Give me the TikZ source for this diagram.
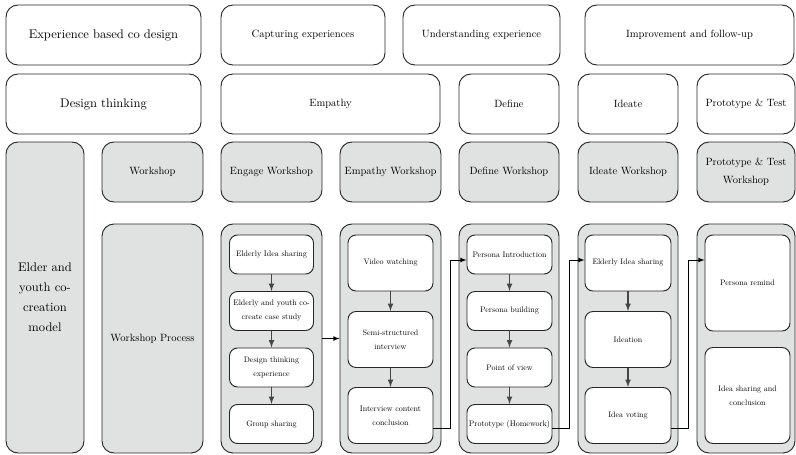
\documentclass[tikz,border=0pt]{standalone}
\usepackage{fontspec}
\setmainfont{lmroman10}[Extension=.otf, UprightFont=*-regular, BoldFont=*-bold]
\usepackage{tikz}
\usetikzlibrary{shapes, arrows, positioning, calc}

\definecolor{cellgray}{RGB}{224,225,225}
\definecolor{linkgray}{RGB}{70,70,70}

\tikzset{
	frame/.style 2 args={draw=black!85, line width=0.7pt, rounded corners=9pt, align=center, inner sep=0.75pt,
		minimum width=#1*0.75pt, minimum height=#2*0.75pt},
	head/.style 2 args={frame={#1}{#2}, font=\fontsize{9.4}{14}\selectfont},
	phase/.style 2 args={frame={#1}{#2}, font=\fontsize{7.9}{13.5}\selectfont},
	cell/.style 2 args={frame={#1}{#2}, fill=cellgray, font=\fontsize{7.9}{13.5}\selectfont},
	lane/.style 2 args={frame={#1}{#2}, fill=cellgray},
	task/.style 2 args={frame={#1}{#2}, fill=white, rounded corners=6pt, font=\fontsize{6}{10.5}\selectfont},
	flow/.style={-latex, line width=0.6pt, black},
	down/.style={-latex, line width=0.9pt, linkgray}
}

\begin{document}
\begin{tikzpicture}[x=0.75pt,y=0.75pt,yscale=-1,xscale=1]
	\useasboundingbox (0,0) rectangle (796,454);
	
	% EBCD stages
	\node [head={195}{60}] (ebcd) at (103.5,35) {Experience based co design};
	\node [phase={164}{60}] (capture) at (303,35) {Capturing experiences};
	\node [phase={157}{60}] (understand) at (481.5,35) {Understanding experience};
	\node [phase={209}{60}] (improve) at (689.5,35) {Improvement and follow-up};
	
	% design thinking stages
	\node [head={195}{60}] (dt) at (103.5,104) {Design thinking};
	\node [phase={219}{60}] (empathy) at (330.5,104) {Empathy};
	\node [phase={100}{60}] (define) at (509,104) {Define};
	\node [phase={100}{60}] (ideate) at (628,104) {Ideate};
	\node [phase={98}{60}] (proto) at (746,104) {Prototype \& Test};
	
	% workshops
	\node [cell={78}{311}, font=\fontsize{9.4}{15}\selectfont] (model) at (45,297.5) {Elder and\\youth co-\\creation\\model};
	\node [cell={101}{60}] (ws) at (152.5,172) {Workshop};
	\node [cell={101}{60}] (wsengage) at (271.5,172) {Engage Workshop};
	\node [cell={101}{60}] (wsempathy) at (390.5,172) {Empathy Workshop};
	\node [cell={100}{60}] (wsdefine) at (509,172) {Define Workshop};
	\node [cell={100}{60}] (wsideate) at (628,172) {Ideate Workshop};
	\node [cell={98}{60}] (wsproto) at (746,172) {Prototype \& Test\\Workshop};
	
	% process lanes
	\node [cell={101}{229}] (process) at (152.5,338.5) {Workshop Process};
	\node [lane={101}{229}] (lengage) at (271.5,338.5) {};
	\node [lane={101}{229}] (lempathy) at (390.5,338.5) {};
	\node [lane={100}{229}] (ldefine) at (509,338.5) {};
	\node [lane={100}{229}] (lideate) at (628,338.5) {};
	\node [lane={98}{229}] (lproto) at (746,338.5) {};
	
	% engage
	\node [task={84}{39}] (e1) at (271.5,254.5) {Elderly Idea sharing};
	\node [task={84}{39}] (e2) at (271.5,311) {Elderly and youth co-\\create case study};
	\node [task={84}{39}] (e3) at (271.5,367.5) {Design thinking\\experience};
	\node [task={84}{39}] (e4) at (271.5,424) {Group sharing};
	
	% empathy
	\node [task={85}{56}] (m1) at (390.5,263) {Video watching};
	\node [task={85}{56}] (m2) at (390.5,339.5) {Semi-structured\\interview};
	\node [task={85}{56}] (m3) at (390.5,415.5) {Interview content\\conclusion};
	
	% define
	\node [task={85}{39}] (d1) at (509.5,254.5) {Persona Introduction};
	\node [task={85}{39}] (d2) at (509.5,311) {Persona building};
	\node [task={85}{39}] (d3) at (509.5,367.5) {Point of view};
	\node [task={85}{39}] (d4) at (509.5,424) {Prototype (Homework)};
	
	% ideate
	\node [task={86}{56}] (i1) at (628,263) {Elderly Idea sharing};
	\node [task={86}{56}] (i2) at (628,339.5) {Ideation};
	\node [task={86}{56}] (i3) at (628,415.5) {Idea voting};
	
	% prototype & test
	\node [task={85}{96}] (p1) at (747.5,283) {Persona remind};
	\node [task={85}{96}] (p2) at (747.5,395.5) {Idea sharing and\\conclusion};
	
	% arrows inside lanes
	\draw [down] (e1) -- (e2);
	\draw [down] (e2) -- (e3);
	\draw [down] (e3) -- (e4);
	\draw [down] (m1) -- (m2);
	\draw [down] (m2) -- (m3);
	\draw [down] (d1) -- (d2);
	\draw [down] (d2) -- (d3);
	\draw [down] (d3) -- (d4);
	\draw [down] (i1) -- (i2);
	\draw [down] (i2) -- (i3);
	
	% arrows between lanes
	\coordinate (low) at (0,428);
	\coordinate (high) at (0,260);
	\draw [flow] (lengage) -- (lempathy);
	\draw [flow] (low -| m3.east) -- ++(17,0) |- (high -| d1.west);
	\draw [flow] (low -| d4.east) -- ++(17,0) |- (high -| i1.west);
	\draw [flow] (low -| i3.east) -- ++(17,0) |- (high -| p1.west);
	
\end{tikzpicture}
\end{document}
